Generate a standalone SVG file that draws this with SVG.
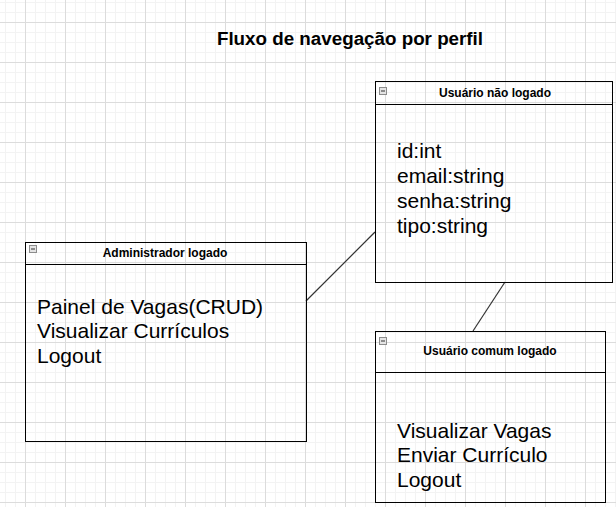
<svg xmlns="http://www.w3.org/2000/svg" width="616" height="507" viewBox="0 0 616 507">
  <style>
    .box { fill: none; stroke: #000; stroke-width: 1; }
    .sep { stroke: #000; stroke-width: 1; }
    .hdr { font-family: "Liberation Sans", Arial, sans-serif; font-size: 12px; font-weight: bold; fill: #000; text-anchor: middle; }
    .body { font-family: "Liberation Sans", Arial, sans-serif; font-size: 21px; fill: #000; }
    .title { font-family: "Liberation Sans", Arial, sans-serif; font-size: 18.8px; font-weight: bold; fill: #000; text-anchor: middle; }
    .icon { fill: #e4e4e4; stroke: #8c8c8c; stroke-width: 1; }
    .minus { stroke: #333; stroke-width: 1; }
    .edge { stroke: #333; stroke-width: 1.2; fill: none; }
  </style>
  <defs>
    <pattern id="grid" x="25" y="22" width="40" height="40" patternUnits="userSpaceOnUse">
      <path d="M10.5 0V40M20.5 0V40M30.5 0V40M0 10.5H40M0 20.5H40M0 30.5H40" stroke="#f3f3f3" stroke-width="1" fill="none"/>
      <path d="M0.5 0V40M0 0.5H40" stroke="#dcdcdc" stroke-width="1" fill="none"/>
    </pattern>
  </defs>
  <rect x="0" y="0" width="616" height="507" fill="#ffffff"/>
  <rect x="0" y="0" width="616" height="507" fill="url(#grid)"/>

  <text class="title" x="350" y="45">Fluxo de navegação por perfil</text>

  <g id="connectors">
    <line class="edge" x1="306" y1="301" x2="375" y2="232"/>
    <line class="edge" x1="505" y1="282" x2="473" y2="331"/>
  </g>

  <g id="nao-logado">
    <rect class="box" x="375.5" y="81.5" width="237" height="201"/>
    <line class="sep" x1="375" y1="104.5" x2="613" y2="104.5"/>
    <rect class="icon" x="379.5" y="87.5" width="7" height="7"/>
    <line class="minus" x1="381" y1="91" x2="385" y2="91"/>
    <text class="hdr" x="495" y="97">Usuário não logado</text>
    <text class="body" x="397" y="158">id:int</text>
    <text class="body" x="397" y="183">email:string</text>
    <text class="body" x="397" y="208">senha:string</text>
    <text class="body" x="397" y="233">tipo:string</text>
  </g>

  <g id="admin-logado">
    <rect class="box" x="25.5" y="242.5" width="281" height="199"/>
    <line class="sep" x1="25" y1="264.5" x2="307" y2="264.5"/>
    <rect class="icon" x="29.5" y="245.5" width="7" height="7"/>
    <line class="minus" x1="31" y1="249" x2="35" y2="249"/>
    <text class="hdr" x="165" y="257">Administrador logado</text>
    <text class="body" x="37" y="314">Painel de Vagas(CRUD)</text>
    <text class="body" x="37" y="338">Visualizar Currículos</text>
    <text class="body" x="37" y="363">Logout</text>
  </g>

  <g id="comum-logado">
    <rect class="box" x="375.5" y="331.5" width="230" height="171"/>
    <line class="sep" x1="375" y1="372.5" x2="606" y2="372.5"/>
    <rect class="icon" x="379.5" y="337.5" width="7" height="7"/>
    <line class="minus" x1="381" y1="341" x2="385" y2="341"/>
    <text class="hdr" x="490" y="355">Usuário comum logado</text>
    <text class="body" x="397" y="438">Visualizar Vagas</text>
    <text class="body" x="397" y="462">Enviar Currículo</text>
    <text class="body" x="397" y="487">Logout</text>
  </g>
</svg>
